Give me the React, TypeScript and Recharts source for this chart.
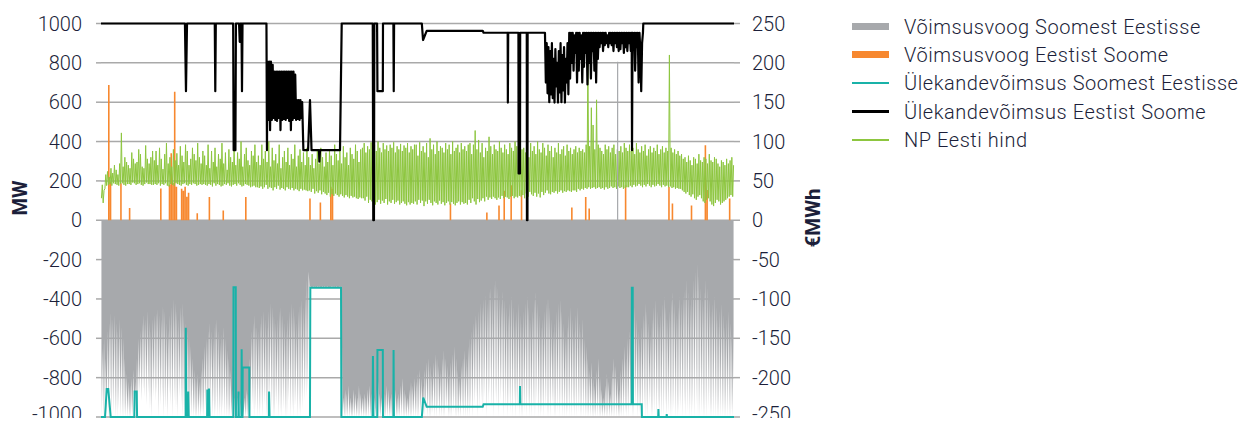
import { Area, ComposedChart, CartesianGrid, Legend, Line, XAxis, YAxis } from 'recharts'

const INK = '#1c1f3a'
const FONT = 'Roboto, "Noto Sans", sans-serif'
const GRID = '#a9a9a9'
const GREY = '#a7a9ac'
const ORANGE = '#f7882f'
const TEAL = '#19b2a8'
const GREEN = '#8dc63f'

// Võimsusvoog Soomest Eestisse, MW (negative = towards Estonia)
// daily peak import ("deep") and daily lowest import ("shallow")
const fiEeDeepJan = [-1000, -1000, -950, -1000, -1000, -900, -1000, -980, -1000, -1000, -960, -1000, -1000, -1000, -1000, -1000, -1000, -1000, -1000, -1000, -1000, -940, -880, -920, -860, -900, -940, -880, -960, -1000, -900]
const fiEeDeepFeb = [-920, -880, -1000, -940, -900, -1000, -960, -1000, -880, -940, -1000, -920, -960, -1000, -900, -940, -1000, -980, -1000, -1000, -1000, -1000, -1000, -1000, -1000, -1000, -1000, -980]
const fiEeDeepMar = [-1000, -960, -1000, -1000, -940, -1000, -1000, -980, -1000, -1000, -1000, -960, -1000, -1000, -1000, -1000, -1000, -1000, -1000, -1000, -1000, -1000, -1000, -1000, -1000, -1000, -1000, -980, -940, -1000, -960]
const fiEeDeepApr = [-1000, -1000, -960, -1000, -940, -1000, -1000, -920, -960, -1000, -1000, -940, -1000, -980, -1000, -960, -1000, -1000, -920, -1000, -960, -1000, -940, -1000, -980, -1000, -960, -920, -900, -860]
const fiEeDeepMay = [-343, -343, -343, -343, -343, -343, -343, -343, -343, -343, -343, -343, -343, -343, -343, -343, -343, -343, -343, -1000, -1000, -1000, -1000, -1000, -1000, -1000, -1000, -1000, -1000, -1000, -1000]
const fiEeDeepJun = [-1000, -1000, -1000, -1000, -1000, -1000, -1000, -1000, -1000, -1000, -1000, -1000, -1000, -1000, -1000, -1000, -1000, -1000, -1000, -1000, -1000, -1000, -1000, -1000, -1000, -1000, -1000, -1000, -1000, -1000]
const fiEeDeepJul = [-1000, -1000, -1000, -980, -1000, -1000, -960, -1000, -1000, -1000, -980, -1000, -1000, -960, -1000, -1000, -1000, -1000, -960, -1000, -1000, -1000, -980, -1000, -1000, -1000, -1000, -960, -1000, -1000, -1000]
const fiEeDeepAug = [-1000, -960, -1000, -940, -900, -1000, -960, -920, -980, -900, -1000, -940, -880, -960, -1000, -900, -940, -1000, -920, -880, -1000, -960, -1000, -940, -980, -1000, -920, -1000, -960, -1000, -1000]
const fiEeDeepSep = [-1000, -980, -1000, -940, -1000, -1000, -960, -1000, -920, -1000, -1000, -980, -1000, -960, -1000, -1000, -1000, -940, -1000, -1000, -980, -1000, -960, -1000, -1000, -1000, -980, -1000, -1000, -960]
const fiEeDeepOct = [-1000, -1000, -980, -1000, -1000, -1000, -1000, -1000, -1000, -1000, -1000, -1000, -1000, -1000, -1000, -1000, -1000, -1000, -1000, -1000, -1000, -1000, -1000, -1000, -1000, -1000, -1000, -1000, -1000, -980, -1000]
const fiEeDeepNov = [-1000, -960, -1000, -1000, -940, -1000, -980, -1000, -1000, -960, -1000, -1000, -940, -1000, -1000, -980, -1000, -960, -1000, -1000, -1000, -940, -1000, -980, -1000, -1000, -960, -1000, -1000, -980]
const fiEeDeepDec = [-960, -1000, -940, -1000, -980, -1000, -1000, -960, -1000, -940, -1000, -1000, -980, -1000, -1000, -1000, -960, -1000, -1000, -1000, -1000, -1000, -1000, -1000, -1000, -1000, -1000, -1000, -1000, -1000, -1000]

const fiEeShallowJan = [-650, -600, -700, -560, -520, -470, -500, -480, -520, -560, -500, -540, -600, -700, -780, -820, -840, -800, -760, -820, -700, -600, -560, -520, -480, -500, -460, -520, -560, -500, -480]
const fiEeShallowFeb = [-470, -450, -480, -500, -430, -460, -520, -560, -480, -440, -400, -420, -460, -500, -440, -420, -480, -520, -560, -600, -640, -700, -760, -800, -780, -820, -760, -700]
const fiEeShallowMar = [-640, -600, -560, -520, -560, -600, -520, -500, -560, -620, -580, -540, -600, -660, -700, -760, -860, -900, -940, -900, -880, -920, -940, -900, -860, -880, -700, -560, -520, -480, -540]
const fiEeShallowApr = [-560, -520, -480, -460, -500, -540, -460, -420, -440, -480, -520, -500, -460, -440, -480, -520, -560, -500, -460, -420, -440, -480, -520, -460, -420, -400, -440, -380, -300, -260]
const fiEeShallowMay = [-336, -338, -336, -337, -335, -336, -338, -336, -335, -337, -336, -338, -336, -335, -337, -336, -338, -336, -335, -900, -860, -880, -840, -900, -920, -860, -880, -900, -840, -880, -900]
const fiEeShallowJun = [-880, -900, -860, -840, -880, -920, -900, -860, -820, -880, -900, -940, -880, -840, -860, -900, -880, -820, -860, -900, -880, -840, -800, -860, -880, -900, -860, -820, -840, -800]
const fiEeShallowJul = [-820, -780, -760, -800, -840, -760, -720, -700, -740, -780, -720, -680, -700, -740, -760, -700, -660, -700, -740, -780, -720, -680, -640, -700, -760, -800, -740, -700, -660, -700, -640]
const fiEeShallowAug = [-600, -560, -520, -480, -500, -460, -420, -440, -400, -380, -420, -360, -340, -380, -320, -300, -340, -380, -420, -360, -400, -440, -480, -420, -380, -440, -500, -460, -420, -480, -520]
const fiEeShallowSep = [-460, -420, -380, -440, -500, -460, -400, -360, -420, -480, -540, -500, -460, -420, -380, -440, -500, -560, -520, -460, -420, -400, -460, -520, -580, -540, -480, -440, -500, -560]
const fiEeShallowOct = [-480, -440, -520, -560, -500, -600, -640, -700, -760, -720, -800, -840, -760, -700, -800, -860, -900, -840, -780, -820, -880, -760, -700, -740, -800, -860, -760, -700, -640, -700, -600]
const fiEeShallowNov = [-560, -520, -480, -440, -500, -560, -620, -540, -480, -420, -460, -520, -580, -500, -440, -400, -460, -520, -480, -420, -380, -440, -500, -460, -400, -360, -420, -480, -440, -380]
const fiEeShallowDec = [-420, -380, -340, -300, -360, -420, -380, -300, -260, -220, -280, -340, -400, -360, -300, -340, -400, -460, -420, -380, -440, -500, -460, -420, -480, -540, -500, -460, -520, -580, -560]

// one hour in late October with a reading above zero
const fiEeSpike: [number, number][] = [[297.9, 805]]

// NP Eesti hind, €/MWh: daily low and daily high
const priceLowJan = [28, 22, 40, 44, 45, 46, 44, 47, 46, 45, 44, 46, 47, 45, 44, 46, 46, 45, 48, 47, 45, 46, 47, 45, 44, 46, 48, 46, 46, 45, 45]
const priceLowFeb = [46, 45, 47, 44, 46, 45, 47, 44, 43, 46, 45, 44, 47, 46, 45, 44, 46, 47, 45, 44, 46, 45, 47, 46, 44, 45, 46, 45]
const priceLowMar = [46, 45, 44, 46, 45, 43, 47, 44, 46, 45, 43, 44, 46, 45, 47, 44, 43, 45, 46, 44, 47, 45, 43, 44, 46, 45, 44, 42, 43, 44, 42]
const priceLowApr = [42, 41, 43, 40, 42, 45, 40, 42, 41, 38, 42, 40, 44, 39, 41, 40, 38, 42, 40, 39, 41, 38, 40, 39, 37, 40, 38, 39, 38, 37]
const priceLowMay = [38, 36, 40, 34, 37, 35, 38, 33, 36, 34, 32, 35, 30, 33, 31, 34, 32, 30, 33, 31, 29, 32, 30, 28, 31, 29, 30, 28, 27, 29, 28]
const priceLowJun = [28, 25, 30, 22, 26, 24, 28, 20, 23, 26, 21, 25, 22, 27, 20, 24, 22, 26, 21, 23, 25, 20, 22, 24, 21, 19, 23, 20, 22, 21]
const priceLowJul = [24, 20, 26, 22, 25, 18, 24, 21, 26, 22, 19, 24, 22, 20, 25, 21, 23, 19, 22, 24, 20, 23, 21, 19, 22, 24, 20, 23, 21, 22, 20]
const priceLowAug = [26, 22, 28, 24, 20, 27, 23, 25, 28, 24, 30, 26, 29, 27, 30, 28, 26, 29, 27, 31, 28, 30, 29, 27, 30, 31, 28, 30, 29, 31, 30]
const priceLowSep = [32, 28, 34, 30, 36, 33, 31, 35, 30, 34, 29, 36, 32, 35, 38, 34, 33, 36, 35, 37, 34, 36, 38, 35, 37, 36, 38, 37, 36, 38]
const priceLowOct = [38, 36, 40, 38, 40, 39, 41, 40, 42, 40, 41, 42, 40, 41, 42, 40, 41, 39, 42, 40, 41, 43, 41, 42, 40, 43, 41, 42, 40, 41, 42]
const priceLowNov = [42, 44, 42, 45, 43, 44, 46, 44, 42, 45, 43, 46, 44, 42, 45, 43, 44, 46, 44, 42, 45, 43, 44, 42, 43, 41, 42, 40, 41, 40]
const priceLowDec = [40, 38, 36, 34, 36, 32, 30, 33, 28, 26, 30, 32, 28, 24, 22, 26, 28, 24, 20, 18, 22, 26, 24, 20, 22, 24, 26, 28, 30, 32, 30]

const priceHighJan = [45, 38, 58, 62, 55, 66, 60, 70, 64, 58, 72, 111, 68, 80, 74, 70, 66, 86, 78, 72, 74, 90, 84, 68, 66, 95, 78, 72, 80, 88, 76]
const priceHighFeb = [88, 70, 92, 78, 65, 84, 98, 72, 80, 68, 90, 76, 85, 70, 94, 82, 74, 96, 88, 70, 78, 92, 84, 76, 98, 80, 72, 88]
const priceHighMar = [82, 70, 96, 66, 88, 74, 92, 68, 84, 78, 98, 72, 86, 64, 90, 80, 74, 94, 70, 86, 78, 100, 68, 84, 92, 76, 70, 88, 82, 96, 74]
const priceHighApr = [82, 70, 96, 78, 88, 74, 100, 68, 92, 76, 84, 72, 96, 66, 80, 88, 74, 92, 70, 84, 78, 96, 68, 82, 90, 74, 86, 70, 92, 80]
const priceHighMay = [70, 84, 66, 78, 88, 72, 92, 80, 68, 86, 74, 90, 82, 70, 96, 84, 76, 88, 72, 94, 80, 86, 70, 92, 84, 78, 96, 88, 74, 90, 92]
const priceHighJun = [98, 86, 94, 90, 99, 84, 96, 88, 100, 92, 86, 98, 90, 95, 88, 96, 92, 99, 86, 94, 90, 97, 88, 95, 92, 98, 86, 94, 90, 96]
const priceHighJul = [96, 82, 99, 88, 94, 86, 98, 80, 104, 90, 96, 84, 100, 88, 94, 92, 86, 98, 90, 96, 84, 100, 88, 92, 96, 86, 98, 90, 94, 88, 96]
const priceHighAug = [98, 84, 96, 114, 90, 102, 86, 98, 80, 92, 88, 106, 94, 84, 96, 90, 88, 100, 92, 86, 96, 90, 84, 98, 92, 88, 100, 94, 86, 96, 90]
const priceHighSep = [92, 86, 96, 80, 98, 88, 94, 84, 100, 90, 86, 98, 92, 82, 96, 88, 94, 80, 92, 86, 98, 84, 90, 94, 82, 96, 88, 92, 84, 90]
const priceHighOct = [94, 86, 92, 88, 90, 86, 96, 210, 94, 143, 121, 90, 153, 96, 92, 88, 84, 96, 90, 94, 86, 92, 96, 84, 90, 88, 94, 86, 98, 92, 88]
const priceHighNov = [96, 88, 92, 84, 98, 90, 86, 94, 88, 96, 82, 90, 94, 86, 92, 88, 96, 84, 90, 94, 86, 92, 88, 210, 92, 86, 90, 84, 88, 82]
const priceHighDec = [84, 78, 80, 74, 82, 76, 70, 80, 78, 72, 84, 76, 74, 80, 78, 72, 84, 76, 74, 80, 78, 72, 68, 76, 74, 70, 78, 72, 76, 80, 70]

// Võimsusvoog Eestist Soome: days with export, and the peak MW
const flowEeFiDays = [4, 5, 11, 16, 34, 39, 40, 41, 42, 43, 46, 47, 48, 49, 50, 55, 62, 70, 83, 120, 126, 132, 133, 201, 222, 229, 232, 236, 242, 271, 279, 281, 302, 327, 329, 340, 348, 349, 362]
const flowEeFiMw = [687, 196, 188, 62, 162, 180, 340, 190, 653, 170, 160, 150, 170, 120, 140, 35, 118, 50, 118, 110, 90, 170, 160, 85, 40, 75, 150, 178, 153, 65, 118, 60, 178, 170, 85, 75, 381, 154, 110]

// Ülekandevõimsus Eestist Soome, [day, MW] breakpoints
const capEeFi: [number, number][] = [
  [0, 1000], [48.4, 1000], [49, 656], [49.6, 1000], [65.6, 1000], [65.9, 656], [66.2, 1000],
  [76.2, 1000], [76.5, 356], [77.5, 356], [77.8, 1000], [79.6, 1000], [80, 907], [80.4, 1000],
  [81, 1000], [81.3, 656], [81.6, 1000], [95.4, 1000], [95.7, 356],
  [96, 806], [96.5, 510], [97, 806], [97.5, 458], [98, 806], [98.5, 510], [99, 790], [99.5, 520],
  [100, 755], [100.5, 510], [101, 755], [101.5, 505], [102, 755], [102.5, 520], [103, 755], [103.5, 458],
  [104, 755], [104.5, 510], [105, 755], [105.5, 515], [106, 755], [106.5, 510], [107, 755], [107.5, 520],
  [108, 755], [108.5, 505], [109, 755], [109.5, 458], [110, 755], [110.5, 510], [111, 755], [111.5, 520],
  [112, 740], [112.5, 510], [113, 611], [113.5, 515], [114, 611], [114.5, 510], [115, 611], [115.5, 520],
  [116, 600], [116.7, 356], [119.4, 356], [120.5, 611], [121.4, 356], [125.7, 356], [125.9, 298],
  [126.3, 356], [137.8, 356], [138.8, 1000], [156.7, 1000], [157, 0], [157.4, 0], [157.6, 1000],
  [159.2, 1000], [159.4, 656], [162.5, 656], [162.6, 1000], [168.6, 1000], [168.8, 656], [169, 1000],
  [185, 1000], [185.7, 916], [187.8, 963], [220.1, 963], [220.6, 953], [234.5, 953], [234.6, 598],
  [234.8, 953], [240.7, 953], [240.8, 238], [241.6, 238], [241.7, 953], [245.5, 953], [245.6, 0],
  [245.9, 0], [246, 953],
  [256, 953], [256.5, 700], [257, 900], [257.5, 645], [258, 880], [258.5, 600], [259, 860], [259.5, 640],
  [260, 900], [260.5, 620], [261, 820], [261.5, 598], [262, 870], [262.5, 680], [263, 800], [263.5, 598],
  [264, 860], [264.5, 650], [265, 900], [265.5, 600], [266, 840], [266.5, 660], [267, 880], [267.5, 598],
  [268, 820], [268.5, 700], [269, 900], [269.5, 640], [270, 953], [270.5, 720], [271, 953], [271.5, 800],
  [272, 953], [272.5, 760], [273, 940], [273.5, 850], [274, 953], [274.5, 700], [275, 953], [275.5, 760],
  [276, 953], [276.5, 820], [277, 940], [277.5, 700], [278, 953], [278.5, 780], [279, 953], [279.5, 850],
  [280, 953], [280.5, 690], [281, 953], [281.5, 800], [282, 953], [282.5, 720], [283, 953], [283.5, 860],
  [284, 953], [284.5, 760], [285, 953], [285.5, 700], [286, 953], [286.5, 820], [287, 953], [287.5, 880],
  [288, 953], [288.5, 900], [289, 953], [289.5, 860], [290, 953], [290.5, 890], [291, 953], [291.5, 900],
  [292, 940], [292.5, 880], [293, 953], [293.5, 900], [294, 953], [294.5, 890], [295, 953], [295.5, 860],
  [296, 953], [296.5, 900], [297, 953], [297.5, 880], [298, 953], [298.5, 860], [299, 953], [299.5, 870],
  [300, 953], [300.5, 900], [301, 953], [301.5, 850], [302, 953], [302.5, 880], [303, 953], [303.5, 860],
  [304, 953], [304.5, 900], [305, 953], [305.5, 860], [306, 953], [306.2, 356], [306.5, 953], [307, 870],
  [307.5, 953], [308, 760], [308.5, 953], [309, 880], [309.5, 953], [310, 700], [310.5, 953], [311, 860],
  [311.5, 656], [312, 900], [312.5, 953], [312.7, 1000], [365, 1000],
]

// Ülekandevõimsus Soomest Eestisse, [day, MW] breakpoints
const capFiEe: [number, number][] = [
  [0, -1000], [2.3, -1000], [3.3, -858], [4.2, -858], [5.6, -1000], [19.2, -1000], [19.4, -870],
  [20.6, -870], [20.8, -1000], [48.8, -1000], [48.9, -546], [49.2, -1000], [50.2, -1000], [50.3, -870],
  [50.6, -1000], [61.2, -1000], [61.3, -860], [61.6, -1000], [62.2, -1000], [62.3, -855], [62.6, -1000],
  [76.3, -1000], [76.4, -340], [77.7, -340], [77.8, -1000], [79.2, -1000], [79.3, -870], [79.5, -1000],
  [81, -1000], [81.1, -656], [81.3, -1000], [81.6, -1000], [81.7, -748], [85.5, -748], [85.6, -1000],
  [96.8, -1000], [96.9, -870], [97.2, -1000], [120.5, -1000], [120.7, -343], [138.4, -343], [138.6, -1000],
  [156.6, -1000], [156.8, -690], [157.1, -1000], [159.3, -1000], [159.4, -660], [162.5, -660],
  [162.6, -1000], [168.6, -1000], [168.7, -660], [168.9, -1000], [185, -1000], [185.8, -901],
  [187.8, -948], [220.1, -948], [220.6, -935], [241.5, -935], [241.6, -842], [241.8, -935],
  [306, -935], [306.1, -343], [306.6, -343], [306.7, -935], [311.8, -935], [311.9, -1000],
  [321.3, -1000], [321.4, -960], [321.6, -1000], [326.1, -1000], [326.2, -985], [326.4, -1000], [365, -1000],
]

const mwTicks = [-1000, -800, -600, -400, -200, 0, 200, 400, 600, 800, 1000]
const priceTicks = [-250, -200, -150, -100, -50, 0, 50, 100, 150, 200, 250]

const fiEeDeep = [
  ...fiEeDeepJan, ...fiEeDeepFeb, ...fiEeDeepMar, ...fiEeDeepApr, ...fiEeDeepMay, ...fiEeDeepJun,
  ...fiEeDeepJul, ...fiEeDeepAug, ...fiEeDeepSep, ...fiEeDeepOct, ...fiEeDeepNov, ...fiEeDeepDec,
]
const fiEeShallow = [
  ...fiEeShallowJan, ...fiEeShallowFeb, ...fiEeShallowMar, ...fiEeShallowApr, ...fiEeShallowMay, ...fiEeShallowJun,
  ...fiEeShallowJul, ...fiEeShallowAug, ...fiEeShallowSep, ...fiEeShallowOct, ...fiEeShallowNov, ...fiEeShallowDec,
]
const priceLow = [
  ...priceLowJan, ...priceLowFeb, ...priceLowMar, ...priceLowApr, ...priceLowMay, ...priceLowJun,
  ...priceLowJul, ...priceLowAug, ...priceLowSep, ...priceLowOct, ...priceLowNov, ...priceLowDec,
]
const priceHigh = [
  ...priceHighJan, ...priceHighFeb, ...priceHighMar, ...priceHighApr, ...priceHighMay, ...priceHighJun,
  ...priceHighJul, ...priceHighAug, ...priceHighSep, ...priceHighOct, ...priceHighNov, ...priceHighDec,
]

// two samples per day: the peak and the trough
const rows = fiEeDeep.flatMap((deep, i) => [
  { day: i + 0.25, fiEe: deep, price: priceLow[i] },
  { day: i + 0.75, fiEe: fiEeShallow[i], price: priceHigh[i] },
])
// each export day is drawn as a thin spike from 0
const eeFiRows = flowEeFiDays.flatMap((d, k) => [
  { day: d + 0.5, flow: 0 },
  { day: d + 0.5, flow: flowEeFiMw[k] },
  { day: d + 0.5, flow: null },
])
const fiEeSpikeRows = fiEeSpike.flatMap(([day, mw]) => [{ day, flow: 0 }, { day, flow: mw }])
const capEeFiRows = capEeFi.map(([day, cap]) => ({ day, cap }))
const capFiEeRows = capFiEe.map(([day, cap]) => ({ day, cap }))

const legendItems = [
  { label: 'Võimsusvoog Soomest Eestisse', color: GREY, h: 7 },
  { label: 'Võimsusvoog Eestist Soome', color: ORANGE, h: 7 },
  { label: 'Ülekandevõimsus Soomest Eestisse', color: TEAL, h: 2.5 },
  { label: 'Ülekandevõimsus Eestist Soome', color: '#000', h: 2.5 },
  { label: 'NP Eesti hind', color: GREEN, h: 2.5 },
]

// bottom labels sit a touch higher so they stay inside the page
function AxisTick(props: any) {
  const { x, y, payload, textAnchor } = props
  const lift = y > 400 ? -3 : 0
  return (
    <text x={x} y={y + lift} dy="0.355em" textAnchor={textAnchor} fill={INK}
      fontSize={20} fontFamily={FONT} fontWeight={300}>{payload.value}</text>
  )
}

function ChartLegend() {
  return (
    <div style={{ fontFamily: FONT, fontWeight: 300, fontSize: 20, letterSpacing: 0.55, color: INK }}>
      {legendItems.map((it) => (
        <div key={it.label} style={{ display: 'flex', alignItems: 'center', height: 28.3, whiteSpace: 'nowrap' }}>
          <span style={{ display: 'inline-block', width: 37, height: it.h, background: it.color, marginRight: 15 }} />
          <span>{it.label}</span>
        </div>
      ))}
    </div>
  )
}

export default function App() {
  return (
    <div style={{ width: 1233, height: 418, marginBottom: -8, fontFamily: FONT }}>
      <style>{'.recharts-surface{overflow:visible}'}</style>
      <ComposedChart width={1233} height={418} data={rows} margin={{ top: 15.5, right: 447, bottom: 9, left: 0 }}>
        <CartesianGrid yAxisId="mw" vertical={false} stroke={GRID} strokeWidth={1.5} />
        <XAxis dataKey="day" type="number" domain={[0, 365]} hide />
        <YAxis
          yAxisId="mw"
          domain={[-1000, 1000]}
          ticks={mwTicks}
          interval={0}
          width={93}
          tickSize={5}
          tickMargin={14}
          axisLine={false}
          tickLine={{ stroke: GRID, strokeWidth: 1.5 }}
          tick={<AxisTick />}
          label={{
            content: () => (
              <text x={19} y={190} transform="rotate(-90 19 190)" textAnchor="middle"
                fill={INK} fontSize={20} fontWeight={700} fontFamily={FONT}>MW</text>
            ),
          }}
        />
        <YAxis
          yAxisId="eur"
          orientation="right"
          domain={[-250, 250]}
          ticks={priceTicks}
          interval={0}
          width={60}
          tickSize={6}
          tickMargin={12}
          axisLine={false}
          tickLine={{ stroke: GRID, strokeWidth: 1.5 }}
          tick={<AxisTick />}
          label={{
            content: () => (
              <text x={812} y={210} transform="rotate(-90 812 210)" textAnchor="middle"
                fill={INK} fontSize={20.5} fontWeight={700} fontFamily={FONT}>€MWh</text>
            ),
          }}
        />
        <Legend
          layout="horizontal"
          verticalAlign="middle"
          align="center"
          wrapperStyle={{ position: 'absolute', left: 844, top: 4.5, width: 395 }}
          content={() => <ChartLegend />}
        />
        <Area yAxisId="mw" dataKey="fiEe" name="Võimsusvoog Soomest Eestisse" type="linear"
          fill={GREY} fillOpacity={1} stroke="none" isAnimationActive={false} />
        <Line yAxisId="mw" data={eeFiRows} dataKey="flow" name="Võimsusvoog Eestist Soome" type="linear"
          stroke={ORANGE} strokeWidth={1.6} dot={false} connectNulls={false} isAnimationActive={false} />
        <Line yAxisId="eur" dataKey="price" name="NP Eesti hind" type="linear" stroke={GREEN}
          strokeWidth={1} dot={false} isAnimationActive={false} />
        <Line yAxisId="mw" data={fiEeSpikeRows} dataKey="flow" name="Võimsusvoog Soomest Eestisse" type="linear"
          stroke={GREY} strokeWidth={1.2} dot={false} legendType="none" isAnimationActive={false} />
        <Line yAxisId="mw" data={capFiEeRows} dataKey="cap" name="Ülekandevõimsus Soomest Eestisse" type="linear"
          stroke={TEAL} strokeWidth={2} dot={false} isAnimationActive={false} />
        <Line yAxisId="mw" data={capEeFiRows} dataKey="cap" name="Ülekandevõimsus Eestist Soome" type="linear"
          stroke="#000" strokeWidth={2.2} strokeLinejoin="round" dot={false} isAnimationActive={false} />
      </ComposedChart>
    </div>
  )
}
